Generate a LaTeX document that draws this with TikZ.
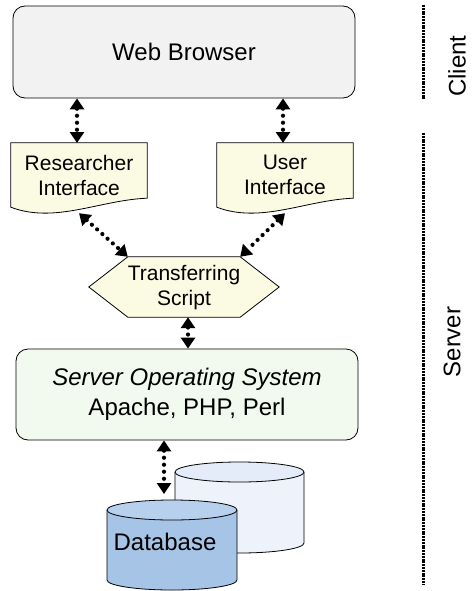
\documentclass[tikz,border=0pt]{standalone}
\usepackage{fontspec}
\setmainfont{Liberation Sans}
\usetikzlibrary{arrows.meta,calc}

\definecolor{browsergray}{HTML}{F2F2F2}
\definecolor{doccream}{HTML}{FBFBE3}
\definecolor{osgreen}{HTML}{F2F9EE}
\definecolor{dbfront}{HTML}{A6C4E6}
\definecolor{dbfronttop}{HTML}{B6D0EE}
\definecolor{dbback}{HTML}{EEF2FA}
\definecolor{dbbacktop}{HTML}{E3ECF8}

\tikzset{
  box/.style={draw, rounded corners=12pt, line width=0.8pt, align=center},
  docshape/.style={draw, fill=doccream, line width=0.8pt},
  link/.style={line width=4.2pt, line cap=round, dash pattern=on 0pt off 7pt,
    {Triangle[width=14pt,length=11pt]}-{Triangle[width=14pt,length=11pt]}},
  sep/.style={line width=3pt, dash pattern=on 2pt off 0.8pt},
  lbl/.style={font=\fontsize{21}{25}\selectfont, align=center, inner sep=0pt}
}

\begin{document}
\begin{tikzpicture}[x=1pt, y=-1pt]
\useasboundingbox (0,0) rectangle (472,591);

% Client side
\node[box, fill=browsergray, minimum width=342pt, minimum height=92pt,
  font=\fontsize{24}{28}\selectfont] (web) at (184,52) {Web Browser};

% Interfaces (document shapes)
\node[lbl, minimum width=136pt, minimum height=70pt] (res) at (79,178) {};
\draw[docshape] (res.north west) -- (res.north east) -- ($(res.south east)+(0,-15)$)
  .. controls (100,200) and (55,224) .. ($(res.south west)+(0,-6)$) -- cycle;
\node[lbl] at (79,175) {Researcher\\Interface};

\node[lbl, minimum width=136pt, minimum height=70pt] (ui) at (285,178) {};
\draw[docshape] (ui.north west) -- (ui.north east) -- ($(ui.south east)+(0,-15)$)
  .. controls (306,200) and (261,224) .. ($(ui.south west)+(0,-6)$) -- cycle;
\node[lbl] at (285,175) {User\\Interface};

% Transferring script (hexagon)
\node[lbl, minimum width=112pt, minimum height=60pt] (ts) at (184,287) {};
\draw[docshape] (ts.north west) -- (ts.north east) -- ($(ts.east)+(39,0)$)
  -- (ts.south east) -- (ts.south west) -- ($(ts.west)+(-39,0)$) -- cycle;
\node[lbl] at (184,288) {Transferring\\Script};

% Server operating system
\node[box, fill=osgreen, minimum width=342pt, minimum height=91pt,
  font=\fontsize{24}{30}\selectfont] (os) at (187,394.5)
  {\textit{Server Operating System}\\Apache, PHP, Perl};

% Databases
\fill[dbback] (175,472) -- (175,543) arc[start angle=180, end angle=0, x radius=64.5, y radius=10]
  -- (304,472) -- cycle;
\draw[line width=0.8pt] (175,472) -- (175,543) arc[start angle=180, end angle=0, x radius=64.5, y radius=10]
  -- (304,472);
\draw[line width=0.8pt, fill=dbbacktop] (239.5,472) ellipse[x radius=64.5, y radius=10];

\fill[dbfront] (107,510) -- (107,580) arc[start angle=180, end angle=0, x radius=65, y radius=10]
  -- (237,510) -- cycle;
\draw[line width=0.8pt] (107,510) -- (107,580) arc[start angle=180, end angle=0, x radius=65, y radius=10]
  -- (237,510);
\draw[line width=0.8pt, fill=dbfronttop] (172,510) ellipse[x radius=65, y radius=10];
\node[font=\fontsize{24}{28}\selectfont, inner sep=0pt] (db) at (165,542) {Database};
\coordinate (dbtop) at (164,494);

% Connectors
\draw[link] (web.south -| 77,0) -- (77,143);
\draw[link] (web.south -| 283,0) -- (283,143);
\draw[link] (res.south) -- (ts.north west);
\draw[link] (ui.south) -- (ts.north east);
\draw[link] (ts.south -| 188,0) -- (os.north -| 188,0);
\draw[link] (os.south -| dbtop) -- (dbtop);

% Client / Server split
\draw[sep] (423,5) -- (423,99);
\draw[sep] (423,133) -- (423,585);
\node[rotate=90, font=\fontsize{24}{28}\selectfont] (client) at (457,66) {Client};
\node[rotate=90, font=\fontsize{24}{28}\selectfont] (server) at (452,342) {Server};
\end{tikzpicture}
\end{document}
